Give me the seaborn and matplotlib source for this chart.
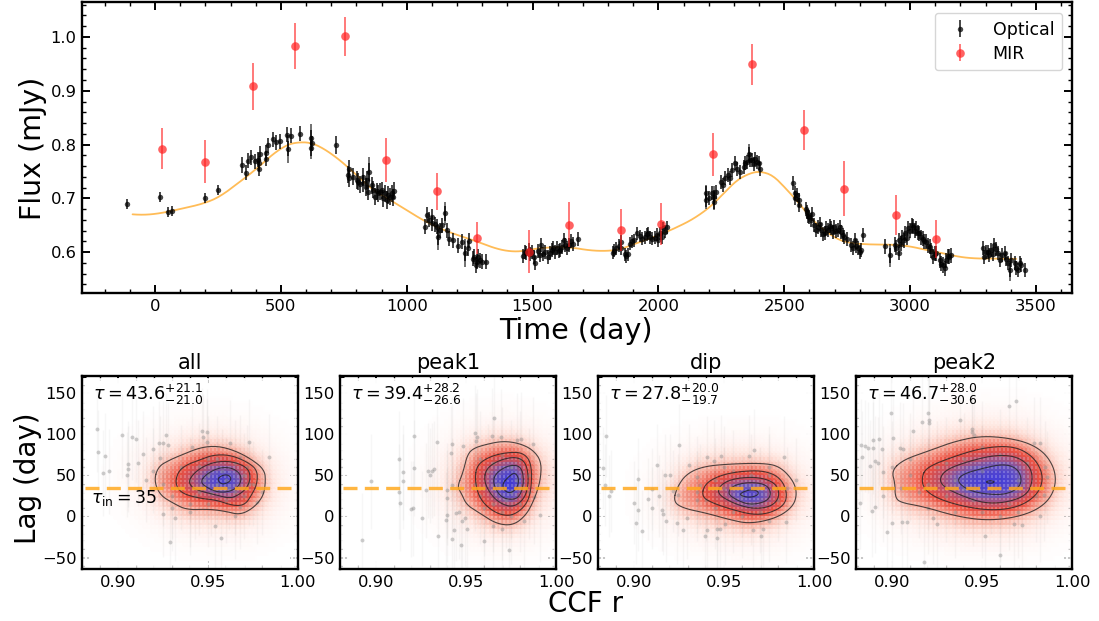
import numpy as np
import matplotlib
matplotlib.use("Agg")
import matplotlib.pyplot as plt
import seaborn as sns
from matplotlib.colors import LinearSegmentedColormap
from matplotlib.path import Path
from matplotlib.ticker import MultipleLocator, AutoMinorLocator, FormatStrFormatter

sns.set_style("ticks", {"axes.edgecolor": "k", "text.color": "k", "xtick.color": "k",
                        "ytick.color": "k", "axes.labelcolor": "k"})
plt.rcParams["font.family"] = ["DejaVu Sans"]
plt.rcParams["mathtext.fontset"] = "dejavusans"

# ---------- top panel data ----------
opt_t = [-111, 20, 53, 69, 200, 252,
         347, 360, 371, 383, 396, 408, 412, 412, 417, 440, 441, 449, 468, 479, 497, 524, 540, 528, 576, 621, 622, 621,
         720, 770, 767, 772, 785, 801, 808, 815, 825, 828, 838, 843, 852, 848, 861, 868, 874, 880, 885, 894, 900, 907, 914, 920, 927, 934, 940, 945, 950,
         1074, 1079, 1090, 1099, 1102, 1113, 1122, 1126, 1132, 1140, 1152, 1159, 1168, 1185, 1205, 1218, 1232, 1245, 1249, 1262, 1266, 1275, 1279, 1285, 1292, 1299, 1315,
         1462, 1468, 1475, 1484, 1490, 1497, 1504, 1511, 1520, 1528, 1533, 1542, 1550, 1560, 1570, 1577, 1583, 1590, 1597, 1604, 1610, 1618, 1626, 1630, 1637, 1643, 1652, 1660, 1679,
         1818, 1825, 1831, 1845, 1852, 1852, 1868, 1872, 1879, 1888, 1895, 1901, 1914, 1925, 1934, 1947, 1954, 1960, 1968, 1974, 1987, 1995, 2000, 2007, 2014, 2020, 2028, 2033,
         2190, 2190, 2200, 2213, 2222, 2222, 2230, 2248, 2255, 2265, 2275, 2285, 2292, 2305, 2312, 2325, 2338, 2345, 2351, 2358, 2365, 2371, 2378, 2384, 2391, 2398, 2405,
         2534, 2544, 2543, 2550, 2558, 2560, 2585, 2591, 2596, 2600, 2607, 2612, 2620, 2625, 2633, 2640, 2647, 2653, 2660, 2666, 2673, 2680, 2686, 2692, 2699, 2706, 2713, 2720, 2726, 2733, 2739, 2748, 2766, 2772, 2779, 2785, 2792, 2800, 2805, 2813,
         2899, 2921, 2938, 2945, 2955, 2955, 2962, 2968, 2975, 2981, 2986, 2991, 3000, 3006, 3011, 3018, 3024, 3030, 3037, 3044, 3050, 3057, 3064, 3070, 3077, 3084, 3090, 3097, 3103, 3117, 3124, 3130, 3137, 3143, 3150, 3156, 3163,
         3291, 3295, 3300, 3309, 3315, 3322, 3328, 3335, 3342, 3348, 3358, 3365, 3375, 3382, 3388, 3395, 3402, 3415, 3420, 3428, 3435, 3441, 3458]
opt_f = [.689, .702, .675, .677, .701, .715,
         .762, .748, .770, .776, .769, .772, .765, .755, .783, .785, .774, .799, .810, .804, .806, .818, .816, .792, .820, .813, .802, .793,
         .799, .755, .744, .737, .740, .734, .731, .726, .740, .728, .721, .734, .749, .712, .724, .716, .703, .713, .709, .712, .715, .700, .709, .697, .706, .703, .709, .702, .714,
         .647, .669, .660, .666, .654, .652, .647, .628, .641, .650, .672, .641, .625, .622, .612, .619, .598, .607, .621, .588, .591, .576, .582, .591, .585, .582, .582,
         .593, .600, .598, .604, .596, .601, .591, .579, .602, .594, .613, .596, .601, .591, .598, .604, .607, .600, .607, .602, .604, .610, .622, .613, .607, .613, .621, .615, .625,
         .599, .603, .607, .612, .619, .607, .596, .592, .596, .616, .620, .622, .635, .630, .625, .628, .633, .635, .628, .625, .627, .632, .622, .635, .628, .644, .638, .646,
         .709, .697, .700, .709, .693, .702, .712, .731, .725, .737, .743, .738, .752, .765, .755, .749, .758, .765, .768, .783, .772, .771, .764, .774, .768, .765, .755,
         .728, .710, .700, .707, .697, .687, .680, .675, .668, .666, .659, .670, .650, .642, .647, .652, .641, .634, .635, .644, .641, .648, .644, .637, .647, .640, .641, .646, .638, .632, .628, .625, .613, .608, .622, .612, .607, .600, .604, .631,
         .611, .594, .614, .608, .599, .622, .616, .628, .622, .635, .627, .644, .640, .650, .647, .640, .644, .636, .635, .628, .625, .620, .619, .612, .610, .603, .591, .597, .598, .585, .578, .576, .570, .585, .592, .591, .594,
         .607, .591, .600, .601, .594, .604, .596, .613, .606, .598, .585, .594, .598, .588, .579, .567, .585, .579, .570, .567, .580, .576, .567]
season_edges = [0, 6, 28, 57, 84, 113, 141, 168, 208, 245, 268]
season_err = [.009, .014, .016, .014, .013, .012, .013, .013, .014, .013]
long_t = [528, 621, 852, 1126, 1152, 1232, 2190, 2222, 2358, 2921, 3395]
long_f = [.792, .806, .749, .628, .672, .598, .703, .700, .783, .594, .567]
long_e = [.026, .032, .028, .024, .022, .026, .022, .022, .018, .022, .020]

mir_t = [26, 197, 388, 558, 755, 918, 1119, 1278, 1485, 1643, 1850, 2009, 2215, 2372, 2577, 2736, 2942, 3102]
mir_f = [.792, .768, .908, .983, 1.001, .771, .713, .626, .601, .651, .642, .653, .782, .949, .827, .718, .669, .624]
mir_e = [.038, .040, .043, .043, .036, .041, .035, .030, .040, .042, .039, .039, .040, .038, .037, .051, .038, .035]

fit_t = [-115, -46, 20, 99, 192, 258, 338, 404, 470, 523, 563, 616, 669, 735, 801, 867, 934, 1000, 1066, 1132, 1199, 1278, 1345, 1398, 1451, 1504, 1570, 1650, 1729, 1795, 1848, 1915, 1994, 2073, 2140, 2206, 2259, 2312, 2365, 2405, 2454, 2507, 2560, 2613, 2666, 2719, 2772, 2851, 2931, 2997, 3064, 3130, 3196, 3262, 3355, 3461]
fit_f = [.671, .669, .672, .680, .690, .703, .731, .755, .783, .799, .804, .804, .793, .771, .743, .715, .697, .678, .659, .644, .632, .620, .608, .602, .601, .606, .609, .609, .603, .602, .605, .617, .630, .646, .662, .684, .709, .734, .747, .750, .743, .718, .690, .659, .638, .622, .616, .614, .614, .611, .604, .598, .591, .588, .588, .587]

# ---------- bottom panel data ----------
panel_names = ["all", "peak1", "dip", "peak2"]
panel_tau = [r"$\tau = 43.6^{+21.1}_{-21.0}$", r"$\tau = 39.4^{+28.2}_{-26.6}$",
             r"$\tau = 27.8^{+20.0}_{-19.7}$", r"$\tau = 46.7^{+28.0}_{-30.6}$"]
tau_in = 35
panel_lag_err = [52, 58, 50, 56]

all_r = [.8883, .8891, .8928, .8915, .895, .9021, .9076, .9099, .9058, .9058, .905, .9113, .9141, .9156, .9193, .923, .9253, .9266, .928, .9234, .9197, .929, .954, .9572, .9466, .9494, .9475, .9494, .941, .9624, .9731, .9843, .9253, .9317, .9772, .9728, .9651, .968,
         .935, .94, .945, .95, .955, .96, .965, .97, .975, .96, .95, .94, .93, .935, .945, .955, .965, .97, .98, .925, .93, .94, .95, .958, .962, .952, .948, .968, .972, .943]
all_lag = [106, 78, 74, 53, 55, 99, 97, 94, 64, 58, 51, 65, 76, 45, 82, 89, 89, 99, 87, 71, 56, -31, -12, -26, 104, 103, 97, 91, 85, 90, 91, 73, 3, -2, 18, 40, 0, 12,
           60, 45, 30, 50, 40, 45, 30, 50, 40, 20, 15, 15, 25, 35, 62, 70, 65, 25, 30, 40, 10, 5, 70, 55, 35, 28, 45, 72, 60, 25]

peak1_r = [.8924, .8972, .9129, .9148, .9152, .9129, .9133, .9211, .9211, .929, .9309, .9324, .93, .9337, .9277, .9194, .9207, .9253, .9346, .9392, .9388, .9444, .9462, .9433, .9424, .947, .9475, .9494, .9503, .9392, .9395, .942, .9414, .942, .9485, .9549, .9562, .9553, .9655, .9645, .9697, .9781, .9808, .9873, .974, .9601, .991, .9877,
           .958, .962, .955, .958, .965, .97, .965, .97, .975, .98, .985, .975, .972, .98, .985, .978, .968, .96, .975, .982, .97, .965]
peak1_lag = [-29, 43, 70, 54, 43, 30, 16, 98, 59, 56, 56, 58, 50, 91, 32, 9, 10, -2, -24, 2, -4, 4, 6, -17, -27, -35, -6, -2, -15, 23, 32, 38, 77, 88, 86, 102, 97, 92, 120, 98, 97, 93, 94, 88, -41, -30, 2, 24,
             70, 55, 40, 25, 15, 5, 65, 75, 60, 70, 50, 30, 20, 15, 30, 45, 40, 10, 0, -5, -15, -12]

dip_r = [.8843, .883, .8839, .8861, .8872, .90, .9024, .9024, .9009, .9042, .9098, .9079, .9102, .9126, .9139, .9153, .9163, .9177, .9172, .92, .925, .9218, .9246, .924, .9292, .9274, .9307, .9348, .9366, .9348, .9394, .9403, .9459, .9459, .9477, .9505, .9407, .9444, .9486, .9638, .9666, .9703, .9832, .9847, .9718, .9662,
         .935, .94, .945, .95, .955, .96, .965, .97, .975, .98, .985, .99, .955, .96, .97, .975, .945, .95, .965, .975]
dip_lag = [98, 59, 38, 25, 31, 17, 46, 8, -8, -18, 34, 21, 10, 63, 25, 8, 3, -5, 50, 50, 87, 31, 26, -8, -2, -17, 63, 48, 38, 20, -24, -17, -26, -15, -15, -9, 73, 67, 74, 74, 81, -24, 72, -7, -15, -17,
           30, 20, 45, 35, 55, 25, 15, 35, 50, 20, 35, 45, 5, 0, 5, -5, 10, 60, 50, 60]

peak2_r = [.8826, .885, .8869, .8896, .893, .8896, .8832, .8878, .8906, .8924, .8952, .8822, .8887, .8906, .8943, .9004, .8993, .9054, .9082, .9002, .8974, .9045, .9063, .9115, .9169, .9199, .9203, .9208, .918, .923, .9249, .9379, .9444, .9444, .9457, .9601, .9518, .969, .9648, .9676, .9722, .9824, .9787, .9824, .9861, .9843,
           .92, .925, .93, .935, .94, .945, .95, .955, .96, .965, .97, .975, .98, .93, .94, .95, .96, .97, .91, .915, .905, .90, .895, .91, .92, .935, .985, .95]
peak2_lag = [87, 86, 84, 83, 94, 93, 73, 61, 67, 65, 54, 16, 7, 12, 82, 96, 126, -7, -7, -8, -19, 84, 82, 104, 115, 126, 117, 114, -55, -2, -9, 117, 107, 103, 99, -47, -24, 141, 134, -9, -11, 89, 89, 0, 48, 26,
             40, 60, 25, 45, 70, 20, 55, 35, 75, 15, 45, 65, 25, 65, 35, 5, 0, 5, 50, 30, 35, 60, 25, 70, 10, 5, 60, 85]

all_rings = [
    ([.9201, .9225, .929, .9355, .9457, .955, .9642, .9735, .9818, .9822, .9808, .9753, .9679, .9605, .9512, .9383, .9309, .9234],
     [44, 61, 69, 75, 84, 86, 81, 71, 57, 40, 24, 10, 2, 6, 9, 8, 16, 26]),
    ([.9318, .9336, .9383, .9457, .9531, .9624, .9716, .9776, .9776, .9744, .9707, .9642, .9549, .9457, .9355],
     [40, 55, 63, 69, 75, 75, 67, 57, 40, 26, 14, 13, 20, 22, 28]),
    ([.9392, .9420, .9475, .9549, .9642, .9726, .9739, .9716, .9670, .9624, .9549, .9475, .9420],
     [42, 52, 61, 67, 67, 59, 46, 34, 26, 22, 26, 30, 34]),
    ([.9457, .9494, .9568, .9642, .9689, .9679, .9633, .9568, .9503],
     [42, 52, 60, 59, 50, 38, 31, 29, 34]),
    ([.9553, .9577, .9614, .9633, .9614, .9577], [45, 50, 51, 46, 41, 39]),
]
peak1_rings = [
    ([.9451, .9484, .9507, .9540, .9614, .9707, .9799, .9873, .9919, .9914, .9882, .9836, .9762, .9669, .9577, .9503, .9475],
     [36, 54, 75, 83, 88, 92, 89, 81, 67, 44, 22, 2, -11, -9, 4, 14, 28]),
    ([.9549, .9562, .9632, .9725, .9817, .9864, .9864, .9836, .9762, .9688, .9614, .9568],
     [46, 63, 73, 78, 78, 65, 34, 14, 1, 2, 12, 26]),
    ([.9599, .9614, .9688, .9781, .9836, .9849, .9827, .9762, .9688, .9633],
     [44, 59, 69, 73, 65, 42, 22, 11, 16, 28]),
    ([.9647, .9670, .9744, .9808, .9823, .9799, .9753, .9688], [42, 54, 63, 61, 42, 24, 20, 24]),
    ([.9703, .9734, .9771, .9795, .9784, .9744, .9710], [40, 48, 54, 46, 34, 28, 32]),
]
dip_rings = [
    ([.9218, .9240, .9292, .9385, .9533, .9718, .9810, .9884, .9906, .9884, .9792, .9644, .9533, .9403, .9274],
     [18, 36, 52, 61, 64, 65, 61, 44, 28, 12, -2, -9, -4, 4, 10]),
    ([.9375, .9394, .9477, .9588, .9718, .9810, .9851, .9838, .9755, .9662, .9551, .9440],
     [24, 40, 50, 55, 56, 48, 30, 14, 4, 2, 8, 16]),
    ([.9459, .9486, .9570, .9699, .9792, .9810, .9764, .9662, .9551], [28, 40, 47, 48, 40, 24, 12, 9, 16]),
    ([.9518, .9551, .9644, .9736, .9764, .9736, .9644, .9570], [28, 38, 42, 39, 28, 18, 14, 20]),
    ([.9588, .9644, .9690, .9690, .9644, .9598], [28, 33, 31, 26, 23, 25]),
]
peak2_rings = [
    ([.8998, .9063, .9193, .9340, .9489, .9637, .9768, .9861, .9913, .9898, .9824, .9694, .9527, .9360, .9175, .9045, .9017, .9017],
     [56, 69, 79, 91, 98, 96, 89, 75, 52, 28, 10, -1, -5, 0, 12, 17, 24, 40]),
    ([.9165, .9193, .9342, .9509, .9676, .9787, .9843, .9815, .9713, .9564, .9397, .9249, .9175],
     [48, 60, 73, 84, 86, 73, 50, 28, 12, 7, 12, 22, 34]),
    ([.9262, .9305, .9453, .9583, .9694, .9768, .9783, .9750, .9638, .9509, .9379, .9286],
     [46, 58, 69, 75, 73, 61, 44, 26, 17, 16, 26, 36]),
    ([.9360, .9397, .9509, .9620, .9694, .9722, .9703, .9620, .9490, .9406],
     [44, 52, 59, 64, 59, 46, 34, 26, 28, 34]),
    ([.9518, .9546, .9574, .9546], [42, 44, 42, 40]),
]
panel_points = [(all_r, all_lag), (peak1_r, peak1_lag), (dip_r, dip_lag), (peak2_r, peak2_lag)]
panel_rings = [all_rings, peak1_rings, dip_rings, peak2_rings]

# ---------- helpers ----------
W, H = 1099, 621
fig = plt.figure(figsize=(W / 100, H / 100), dpi=100)


def px_axes(x0, x1, y0, y1):
    return fig.add_axes([x0 / W, 1 - y1 / H, (x1 - x0) / W, (y1 - y0) / H])


def style(ax):
    for s in ax.spines.values():
        s.set_linewidth(1.7)
        s.set_visible(True)
    ax.tick_params(which="both", direction="in", top=True, right=True, labelsize=11.8)
    ax.tick_params(which="major", length=6, width=1.4, pad=4)
    ax.tick_params(which="minor", length=3, width=1.0)
    ax.xaxis.set_minor_locator(AutoMinorLocator(5))
    ax.yaxis.set_minor_locator(AutoMinorLocator(5))


def smooth(x, y, closed=True, n=3):
    p = np.column_stack([x, y]).astype(float)
    for _ in range(n):
        q = np.roll(p, -1, axis=0) if closed else p[1:]
        a = p if closed else p[:-1]
        new = np.empty((2 * len(a), 2))
        new[0::2] = .75 * a + .25 * q
        new[1::2] = .25 * a + .75 * q
        p = new
    if closed:
        p = np.vstack([p, p[:1]])
    return p[:, 0], p[:, 1]


def blur(a, s_row, s_col):
    for s, ax_i in ((s_row, 0), (s_col, 1)):
        h = int(3 * s) + 1
        k = np.arange(-h, h + 1)
        g = np.exp(-.5 * (k / s) ** 2)
        g /= g.sum()
        a = np.apply_along_axis(lambda v: np.convolve(np.pad(v, h), g, mode="same")[h:-h], ax_i, a)
    return a


heat_cmap = LinearSegmentedColormap.from_list(
    "heat", [(0, "#ffffff"), (.06, "#ffe8e2"), (.2, "#f9b0a0"), (.42, "#ee5040"),
             (.6, "#c05068"), (.78, "#7058b8"), (1, "#3030e8")])

# ---------- top panel ----------
ax = px_axes(82, 1072, 2, 293)
style(ax)
opt_t_a, opt_f_a = np.array(opt_t), np.array(opt_f)
assert len(opt_t) == len(opt_f), (len(opt_t), len(opt_f))
edges = list(season_edges)
edges[-1] = len(opt_t)
opt_e = np.repeat(season_err, np.diff(edges))
ax.errorbar(long_t, long_f, yerr=long_e, fmt="none", ecolor="k", elinewidth=1.3, alpha=.6, zorder=3)
eb1 = ax.errorbar(opt_t_a, opt_f_a, yerr=opt_e, fmt="o", color="k", ms=3.9, mew=0, elinewidth=1.4,
                  alpha=.72, label="Optical", zorder=3)
eb2 = ax.errorbar(mir_t, mir_f, yerr=mir_e, fmt="o", color="#ff2020", ms=6.2, mew=0, elinewidth=1.2,
                  alpha=.7, label="MIR", zorder=4)
fx, fy = smooth(fit_t, fit_f, closed=False, n=2)
sns.lineplot(x=fx, y=fy, sort=False, estimator=None, color="#ffb545", lw=1.3, alpha=.9, ax=ax, zorder=2, legend=False)
ax.set_xlim(-290, 3643)
ax.set_ylim(.524, 1.065)
ax.xaxis.set_major_locator(MultipleLocator(500))
ax.yaxis.set_major_locator(MultipleLocator(.1))
ax.xaxis.set_minor_locator(MultipleLocator(100))
ax.yaxis.set_minor_locator(MultipleLocator(.02))
ax.legend(handles=[eb1, eb2], loc="upper right", bbox_to_anchor=(.99, .963), borderaxespad=0,
          fontsize=12.5, frameon=True, framealpha=.8, edgecolor="#cccccc", fancybox=True,
          handletextpad=.9, borderpad=.45, labelspacing=.35)
fig.text(576 / W, 1 - 331 / H, "Time (day)", fontsize=20.5, ha="center", va="center")
fig.text(33 / W, 1 - 148 / H, "Flux (mJy)", fontsize=20.5, rotation=90, ha="center", va="center")

# ---------- bottom panels ----------
panel_x = [(82, 297.5), (340, 556), (598, 814), (856, 1072)]
r_edges = np.arange(.88, 1.0001, .00225)
lag_edges = np.arange(-64, 172, 5.5)
rc = .5 * (r_edges[1:] + r_edges[:-1])
lc = .5 * (lag_edges[1:] + lag_edges[:-1])
RR, LL = np.meshgrid(rc, lc)
grid_pts = np.column_stack([RR.ravel(), LL.ravel()])

for i, (x0, x1) in enumerate(panel_x):
    ax = px_axes(x0, x1, 375.7, 569)
    style(ax)
    field = np.zeros(RR.shape)
    outer = None
    smooth_rings = []
    for rr, ll in panel_rings[i]:
        sx, sy = smooth(rr, ll)
        smooth_rings.append((sx, sy))
        m = Path(np.column_stack([sx, sy])).contains_points(grid_pts).reshape(RR.shape).astype(float)
        field += m
        if outer is None:
            outer = m
    heat = blur(field, 1.8, 1.8) + .8 * blur(outer, 4.5, 5.5) + .45 * blur(outer, 7.0, 9.5)
    ax.pcolormesh(r_edges, lag_edges, heat, cmap=heat_cmap, vmin=0, vmax=5.4, alpha=.78,
                  edgecolors="face", linewidth=.22, zorder=1)
    pr, pl = panel_points[i]
    ax.errorbar(pr, pl, yerr=panel_lag_err[i], fmt="none", ecolor="#444444", elinewidth=1.0, alpha=.04, zorder=2)
    sns.scatterplot(x=pr, y=pl, color="#909090", s=8, alpha=.45, linewidth=0, ax=ax, zorder=3, legend=False)
    for sx, sy in smooth_rings:
        sns.lineplot(x=sx, y=sy, sort=False, estimator=None, color="#222222", lw=.8, alpha=.8, ax=ax,
                     zorder=4, legend=False)
    ax.axhline(tau_in, xmin=.012, xmax=.972, color="#ffa920", lw=2.4, alpha=.85, dashes=(4.2, 2.2), zorder=5)
    ax.set_xlim(.88, 1.0)
    ax.set_ylim(-64, 171.5)
    ax.xaxis.set_major_locator(MultipleLocator(.05))
    ax.xaxis.set_minor_locator(MultipleLocator(.01))
    ax.xaxis.set_major_formatter(FormatStrFormatter("%.2f"))
    ax.yaxis.set_major_locator(MultipleLocator(50))
    ax.yaxis.set_minor_locator(MultipleLocator(10))
    ax.set_xlabel("")
    ax.set_ylabel("")
    ax.set_title(panel_names[i], fontsize=15, pad=5)
    ax.text(.05, .905, panel_tau[i], transform=ax.transAxes, fontsize=12.7, ha="left", va="center", zorder=6)
    if i == 0:
        ax.text(.04, .365, r"$\tau_{\rm in}=35$", transform=ax.transAxes, fontsize=12.5, ha="left", va="center", zorder=6)

fig.text(28 / W, 1 - 478 / H, "Lag (day)", fontsize=20, rotation=90, ha="center", va="center")
fig.text(586 / W, 1 - 604 / H, "CCF r", fontsize=20, ha="center", va="center")

fig.savefig("out.png", dpi=100)
